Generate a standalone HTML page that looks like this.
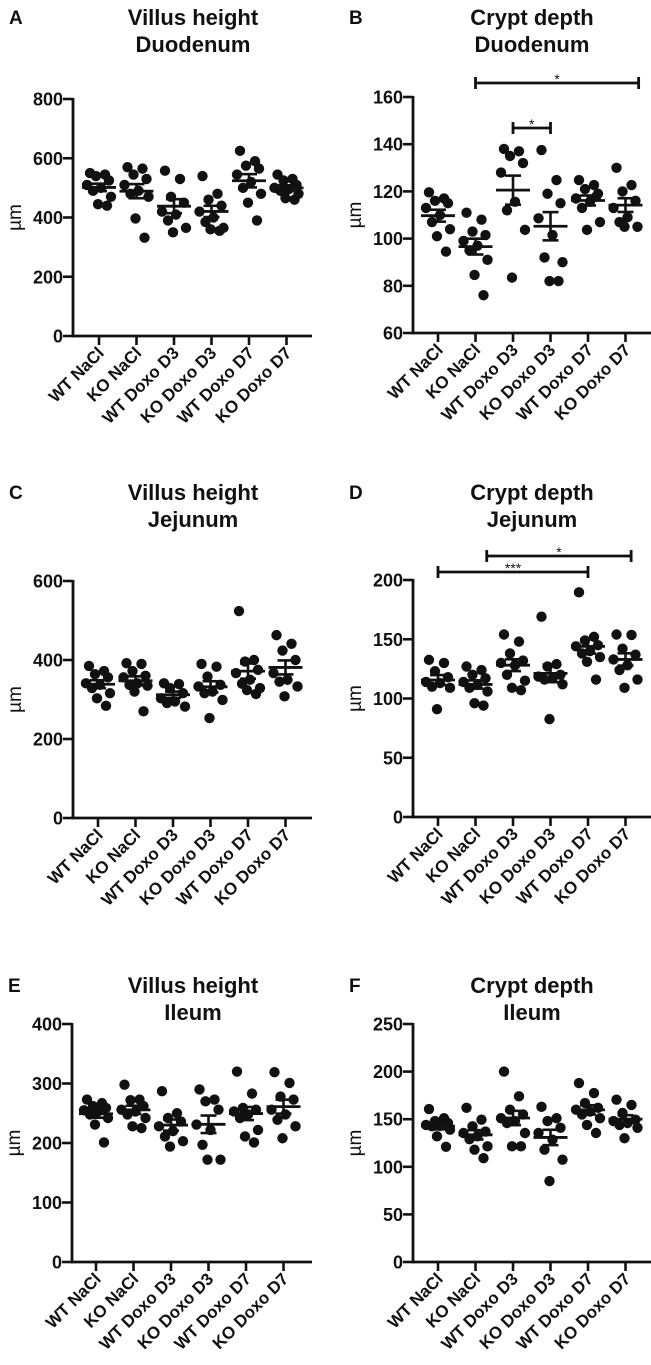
<!DOCTYPE html>
<html><head><meta charset="utf-8">
<style>
html,body{margin:0;padding:0;background:#fff;}
svg{display:block;font-family:"Liberation Sans",Arial,sans-serif;}
.t{font-weight:bold;fill:#111;}
</style></head>
<body>
<svg id="fig" width="651" height="1365" viewBox="0 0 651 1365" xmlns="http://www.w3.org/2000/svg"></svg>
<script>
const categories = ["WT NaCl","KO NaCl","WT Doxo D3","KO Doxo D3","WT Doxo D7","KO Doxo D7"];

// Panel A - villus height duodenum
const aWTNaCl=[550,545,540,525,510,500,490,470,445,440];
const aKONaCl=[570,565,545,530,510,490,480,470,397,332];
const aWTD3=[558,530,470,450,420,410,390,365,350];
const aKOD3=[540,480,460,440,420,400,385,365,360,355];
const aWTD7=[625,590,575,565,545,520,500,480,450,390];
const aKOD7=[545,530,525,510,500,495,490,480,465,460];
const aTicks=[0,200,400,600,800];

// Panel B - crypt depth duodenum
const bWTNaCl=[119.6,117,116,115,113,110,107,104,101,94.5];
const bKONaCl=[111,108,103,101.5,99,97,95,91,84.6,76];
const bWTD3=[138,137,135,132,128,115.6,112,103.7,83.5];
const bKOD3=[137.5,124.8,119,115,108.6,101.5,92,90,82,82];
const bWTD7=[124.8,122.7,121,119,117,115.6,113,107,103.7,117.7];
const bKOD7=[130,122.7,120,116,113,109,107,105,105];
const bTicks=[60,80,100,120,140,160];

// Panel C - villus height jejunum
const cWTNaCl=[385,372,364,356,341,337,329,316,303,284];
const cKONaCl=[392,390,372,360,356,341,337,335,320,270];
const cWTD3=[341,339,329,316,303,295,291,282];
const cKOD3=[390,383,358,337,333,320,316,299,253];
const cWTD7=[524,400,396,375,367,350,340,329,324,314];
const cKOD7=[463,441,424,400,367,350,345,333,308];
const cTicks=[0,200,400,600];

// Panel D - crypt depth jejunum
const dWTNaCl=[132.6,130,123,118,114,113,110,109,91];
const dKONaCl=[127,124,120,117,114,111.5,109,106,96,94];
const dWTD3=[154,148,138,132,130,128,120,115,109,107];
const dKOD3=[169,129,127,120,118.5,117,116,112,82.6];
const dWTD7=[189.6,152,149,145,144,140,138,135,131,116];
const dKOD7=[154,153.6,142,137,133,128,124,116,109];
const dTicks=[0,50,100,150,200];

// Panel E - villus height ileum
const eWTNaCl=[273,267,262,259,255,253,248,242,231,201];
const eKONaCl=[298,273,272,262,256,253,248,242,228,225];
const eWTD3=[287,250,242,236,228,220,211,203,194];
const eKOD3=[290,273,270,256,231,222,197,172,172];
const eWTD7=[320,283,259,256,253,248,242,222,211,201];
const eKOD7=[319,301,278,273,256,248,239,228,208];
const eTicks=[0,100,200,300,400];

// Panel F - crypt depth ileum
const fWTNaCl=[160.7,151,148,146,144,143,142.5,139,132,121];
const fKONaCl=[162,149.5,142.5,137,135.5,132,129,121.5,118,109];
const fWTD3=[200,174,160,155,151,148,146,135.5,121.5,121.5];
const fKOD3=[163,151,148,141,135.5,128.5,118,107.5,85];
const fWTD7=[188,177.5,167,162,160,158,155,151,144,135.5];
const fKOD7=[170.5,165,156.5,149.5,148,146,144,141,130];
const fTicks=[0,50,100,150,200,250];

// significance annotations: [fromIndex, toIndex, label]
const bSig=[[1,5.35,"*"],[2,3,"*"]];
const dSig=[[0,4,"***"],[1.3,5.15,"*"]];

const NS="http://www.w3.org/2000/svg";
const svg=document.getElementById('fig');
function mk(tag,attrs,parent){const e=document.createElementNS(NS,tag);for(const k in attrs)e.setAttribute(k,attrs[k]);(parent||svg).appendChild(e);return e;}
const jit=[-9,6,-3,10,-12,2,-6,12,-1,8];

function panel(o){
  const g=mk('g',{});
  
  
  const y=v=>o.y0-(v-o.vmin)/(o.vmax-o.vmin)*(o.y0-o.y1);
  const x=i=>o.xs0+i*o.dx;
  const L=mk('text',{x:o.ax-64,y:o.titleY+7,'font-size':19,class:'t'},g);L.textContent=o.letter;
  
  
  o.title.forEach((t,k)=>{const T=mk('text',{x:o.tx,y:o.titleY+8+k*27,'font-size':22,'text-anchor':'middle',class:'t'},g);T.textContent=t;
    
    });
  const ya=mk('line',{x1:o.ax,x2:o.ax,y1:o.y1-1,y2:o.y0+1.2,stroke:'#111','stroke-width':2.8},g);
  
  
  const xa=mk('line',{x1:o.ax-1.4,x2:o.xEnd,y1:o.y0,y2:o.y0,stroke:'#111','stroke-width':2.8},g);
  
  
  o.ticks.forEach(t=>{mk('line',{x1:o.ax-10,x2:o.ax,y1:y(t),y2:y(t),stroke:'#111','stroke-width':2.6},g);
    const tl=mk('text',{x:o.ax-10,y:y(t)+6.5,'font-size':18,'text-anchor':'end',class:'t'},g);tl.textContent=t;
    
    });
  const yl=mk('text',{x:0,y:0,'font-size':19,'text-anchor':'middle',fill:'#111',transform:`translate(${o.ax-52},${(o.y0+o.y1)/2}) rotate(-90)`},g);yl.textContent='µm';
  
  
  categories.forEach((c,i)=>{mk('line',{x1:x(i),x2:x(i),y1:o.y0,y2:o.y0+9,stroke:'#111','stroke-width':2.6},g);
    const xl=mk('text',{x:0,y:0,'font-size':17,'text-anchor':'end',class:'t',transform:`translate(${x(i)+6},${o.y0+18}) rotate(-45)`},g);xl.textContent=c;
    
    });
  o.series.forEach((arr,i)=>{
    arr.forEach((v,k)=>{const d=mk('circle',{cx:x(i)+jit[k%jit.length],cy:y(v),r:5.2,fill:'#111'},g);
      
      });
    const n=arr.length,m=arr.reduce((a,b)=>a+b,0)/n;
    const sd=Math.sqrt(arr.reduce((a,b)=>a+(b-m)*(b-m),0)/(n-1)),se=sd/Math.sqrt(n);
    const ml=mk('line',{x1:x(i)-17,x2:x(i)+17,y1:y(m),y2:y(m),stroke:'#111','stroke-width':2.8},g);
    
    
    mk('line',{x1:x(i),x2:x(i),y1:y(m+se),y2:y(m-se),stroke:'#111','stroke-width':2.6},g);
    [m+se,m-se].forEach(v=>mk('line',{x1:x(i)-8,x2:x(i)+8,y1:y(v),y2:y(v),stroke:'#111','stroke-width':2.6},g));
  });
  (o.sig||[]).forEach((s,k)=>{
    const by=o.sigY[k],x1=x(s[0]),x2=x(s[1]);
    const sg=mk('g',{},g);
    
    
    mk('line',{x1:x1,x2:x2,y1:by,y2:by,stroke:'#111','stroke-width':2.8},sg);
    [x1,x2].forEach(xx=>mk('line',{x1:xx,x2:xx,y1:by-6,y2:by+6,stroke:'#111','stroke-width':2.8},sg));
    const st=mk('text',{x:(x1+x2)/2,y:by+1,'font-size':14,'text-anchor':'middle',fill:'#111'},sg);st.textContent=s[2];
  });
}
const L={ax:73,xs0:99,dx:37.5,xEnd:312,tx:193};
const R={ax:413,xs0:438,dx:37.5,xEnd:651,tx:532};
panel({...L,letter:'A',title:['Villus height','Duodenum'],titleY:17,y0:336,y1:99,vmin:0,vmax:800,ticks:aTicks,series:[aWTNaCl,aKONaCl,aWTD3,aKOD3,aWTD7,aKOD7]});
panel({...R,letter:'B',title:['Crypt depth','Duodenum'],titleY:17,y0:333,y1:97,vmin:60,vmax:160,ticks:bTicks,series:[bWTNaCl,bKONaCl,bWTD3,bKOD3,bWTD7,bKOD7],sig:bSig,sigY:[83,128]});
panel({...L,ax:73,xs0:98,letter:'C',title:['Villus height','Jejunum'],titleY:492,y0:818,y1:581,vmin:0,vmax:600,ticks:cTicks,series:[cWTNaCl,cKONaCl,cWTD3,cKOD3,cWTD7,cKOD7]});
panel({...R,letter:'D',title:['Crypt depth','Jejunum'],titleY:492,y0:817,y1:580,vmin:0,vmax:200,ticks:dTicks,series:[dWTNaCl,dKONaCl,dWTD3,dKOD3,dWTD7,dKOD7],sig:dSig,sigY:[572,556]});
panel({...L,ax:72,xs0:96,letter:'E',title:['Villus height','Ileum'],titleY:985,y0:1262,y1:1024,vmin:0,vmax:400,ticks:eTicks,series:[eWTNaCl,eKONaCl,eWTD3,eKOD3,eWTD7,eKOD7]});
panel({...R,letter:'F',title:['Crypt depth','Ileum'],titleY:985,y0:1262,y1:1024,vmin:0,vmax:250,ticks:fTicks,series:[fWTNaCl,fKONaCl,fWTD3,fKOD3,fWTD7,fKOD7]});
</script>
</body></html>
